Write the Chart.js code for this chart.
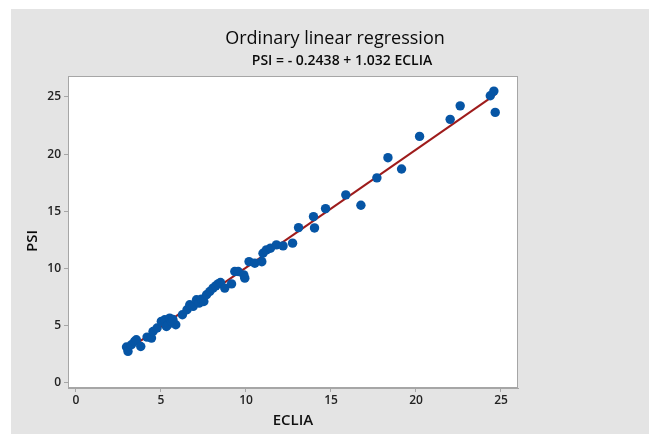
<!DOCTYPE html>
<html>
<head>
<meta charset="utf-8">
<script src="https://cdn.jsdelivr.net/npm/chart.js@4.4.1/dist/chart.umd.min.js"></script>
<style>
  html, body { margin: 0; padding: 0; background: #ffffff; }
  #wrap { width: 649px; height: 434px; }
</style>
</head>
<body>
<div id="wrap"><canvas id="grafico" width="649" height="434"></canvas></div>
<script>
// dados
const eclia = [2.97, 3.06, 3.26, 3.45, 3.55, 3.81, 4.18, 4.44, 4.53, 4.77,
    5.02, 5.22, 5.41, 5.51, 5.32, 5.62, 5.87, 5.70, 6.26, 6.53,
    6.69, 6.89, 7.09, 7.24, 7.38, 7.52, 7.68, 7.87, 8.06, 8.22,
    8.36, 8.50, 8.75, 9.15, 9.34, 9.54, 9.87, 9.93, 10.18, 10.52,
    10.93, 11.00, 11.20, 11.44, 11.79, 12.18, 12.74, 13.09, 13.97, 14.03,
    14.68, 15.87, 16.76, 17.70, 18.35, 19.15, 20.21, 22.01, 22.60, 24.37,
    24.58, 24.66];
const psi = [3.14, 2.76, 3.34, 3.63, 3.78, 3.19, 4.01, 3.92, 4.50, 4.80,
    5.38, 5.52, 5.09, 5.67, 4.94, 5.38, 5.09, 5.55, 5.96, 6.40,
    6.83, 6.69, 7.27, 6.98, 7.33, 7.12, 7.71, 7.99, 8.29, 8.49,
    8.66, 8.78, 8.29, 8.66, 9.74, 9.74, 9.45, 9.16, 10.61, 10.47,
    10.60, 11.34, 11.63, 11.78, 12.07, 11.98, 12.22, 13.58, 14.54, 13.55,
    15.24, 16.44, 15.53, 17.93, 19.69, 18.70, 21.55, 23.04, 24.22, 25.10,
    25.51, 23.65];

// equação da regressão (título)
const intercepto = -0.2438;
const inclinacao = 1.032;
const xTicks = [0, 5, 10, 15, 20, 25];
const yTicks = [0, 5, 10, 15, 20, 25];
const titulo = "Ordinary linear regression";
const subtitulo = "PSI = - 0.2438 + 1.032 ECLIA";
const tituloY = "PSI";

const pontos = eclia.map((x, i) => ({ x: x, y: psi[i] }));
const xMin = Math.min(...eclia), xMax = Math.max(...eclia);
const linha = [xMin, xMax].map(x => ({ x: x, y: intercepto + inclinacao * x }));

const fonte = "'Open Sans', 'Noto Sans', sans-serif";

// fundo cinza, moldura e títulos
const fundo = {
    id: "fundo",
    beforeDraw(chart) {
        const c = chart.ctx;
        c.save();
        c.fillStyle = "#ffffff";
        c.fillRect(0, 0, chart.width, chart.height);
        c.fillStyle = "#e4e4e4";
        c.fillRect(11, 9, chart.width - 11, chart.height - 9);
        const a = chart.chartArea;
        c.fillStyle = "#ffffff";
        c.fillRect(a.left, a.top, a.right - a.left, a.bottom - a.top);
        c.restore();
    },
    afterDraw(chart) {
        const c = chart.ctx;
        const a = chart.chartArea;
        c.save();
        c.strokeStyle = "#a6a6a6";
        c.lineWidth = 1;
        c.strokeRect(a.left + 0.5, a.top + 0.5, a.right - a.left - 1, a.bottom - a.top - 1);
        c.fillStyle = "#0a0a0a";
        c.textAlign = "center";
        c.textBaseline = "middle";
        c.font = "500 18px " + fonte;
        c.fillText(titulo, 335, 39);
        c.font = "600 14px " + fonte;
        c.fillText(subtitulo, 342, 61);
        // título do eixo y
        c.translate(33, 241);
        c.rotate(-Math.PI / 2);
        c.font = "600 15px " + fonte;
        c.fillText(tituloY, 0, 0);
        c.restore();
    }
};

const ctx = document.getElementById("grafico").getContext("2d");
new Chart(ctx, {
    type: "scatter",
    data: {
        datasets: [{
            type: "line",
            label: "Ajuste",
            data: linha,
            borderColor: "#9e1b1b",
            borderWidth: 2,
            pointRadius: 0,
            fill: false,
            order: 2
        }, {
            label: "PSI",
            data: pontos,
            backgroundColor: "#0655a5",
            borderColor: "#0655a5",
            pointRadius: 4.7,
            borderWidth: 0,
            order: 1
        }]
    },
    options: {
        responsive: false,
        animation: false,
        layout: { padding: { top: 76, left: 0, right: 131, bottom: 0 } },
        plugins: {
            legend: { display: false },
            tooltip: { enabled: false }
        },
        scales: {
            x: {
                type: "linear",
                min: -0.47,
                max: 26.0,
                afterBuildTicks: s => { s.ticks = xTicks.map(v => ({ value: v })); },
                afterFit: s => { s.height = 46; },
                grid: { drawOnChartArea: false, tickLength: 4, color: "#a6a6a6" },
                border: { color: "#a6a6a6" },
                ticks: { color: "#222", font: { family: fonte, size: 12, weight: "600" }, padding: 1, maxRotation: 0 },
                title: { display: true, text: "ECLIA", color: "#111", font: { family: fonte, size: 15, weight: "600" }, padding: { top: 5 } }
            },
            y: {
                type: "linear",
                min: -0.44,
                max: 26.83,
                afterBuildTicks: s => { s.ticks = yTicks.map(v => ({ value: v })); },
                afterFit: s => { s.width = 68; },
                grid: { drawOnChartArea: false, tickLength: 4, color: "#a6a6a6" },
                border: { color: "#a6a6a6" },
                ticks: { color: "#222", font: { family: fonte, size: 12, weight: "600" }, padding: 3 },
                title: { display: false }
            }
        }
    },
    plugins: [fundo]
});
</script>
</body>
</html>
